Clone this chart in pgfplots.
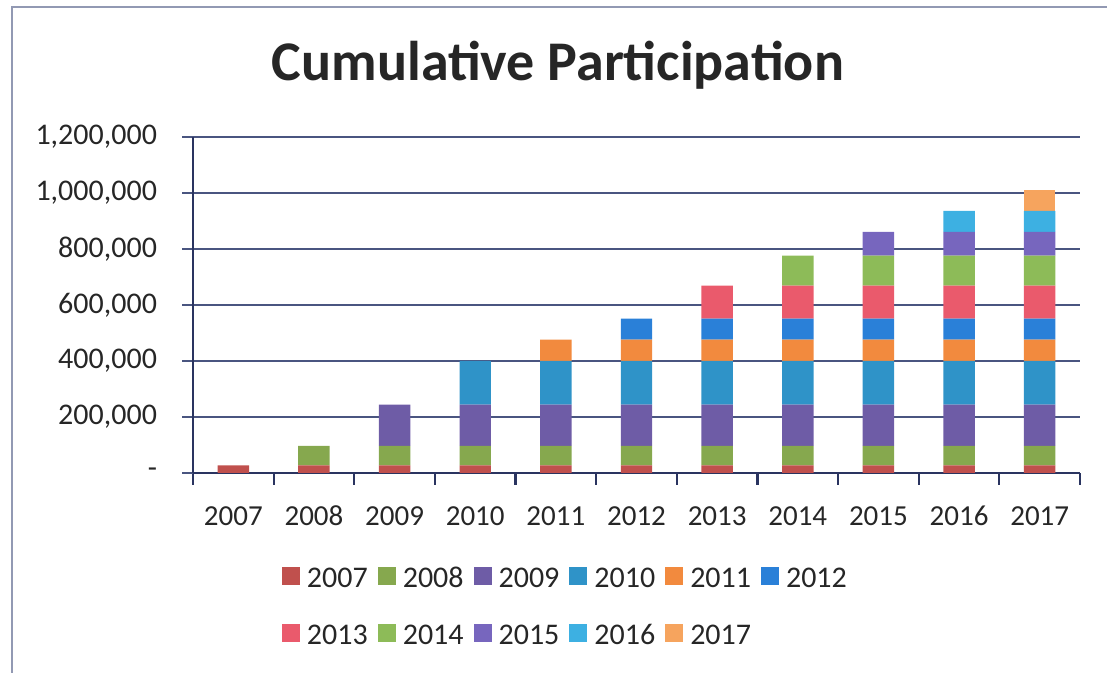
\documentclass[border=0pt]{standalone}
\usepackage{fontspec}
\setmainfont{Carlito}
\usepackage{pgfplots}
\pgfplotsset{compat=1.18}

\definecolor{c07}{HTML}{C0504D}
\definecolor{c08}{HTML}{86A84E}
\definecolor{c09}{HTML}{6E5CA6}
\definecolor{c10}{HTML}{2F93C8}
\definecolor{c11}{HTML}{F28A3E}
\definecolor{c12}{HTML}{2A80D8}
\definecolor{c13}{HTML}{EA5A6C}
\definecolor{c14}{HTML}{8DBB58}
\definecolor{c15}{HTML}{7766BE}
\definecolor{c16}{HTML}{3DB0E2}
\definecolor{c17}{HTML}{F6A45E}
\definecolor{gridc}{HTML}{4A5580}
\definecolor{axisc}{HTML}{2A3460}

\begin{document}
\begin{tikzpicture}
\useasboundingbox (0pt,0pt) rectangle (553.5pt,336.5pt);
\draw[gridc!60, line width=0.8pt] (6pt,-20pt) -- (6pt,333pt) -- (600pt,333pt);
\node[font=\fontsize{28}{32}\selectfont\bfseries, text=black!85] at (279pt,304pt) {Cumulative Participation};
\begin{axis}[
    at={(96.5pt,100pt)}, anchor=south west,
    scale only axis,
    width=443.5pt, height=168pt,
    ybar stacked,
    bar width=0.39,
    xmin=-0.5, xmax=10.5,
    ymin=0, ymax=1200000,
    scaled y ticks=false,
    axis lines*=left,
    axis line style={axisc, line width=1.1pt},
    xtick={0,...,10},
    xticklabels={2007,2008,2009,2010,2011,2012,2013,2014,2015,2016,2017},
    major x tick style={draw=none},
    minor xtick={-0.5,0.5,...,10.5},
    minor x tick style={axisc, line width=1.1pt},
    minor tick length=6pt,
    tick align=outside,
    ytick={0,200000,...,1200000},
    yticklabels={{-\hspace{13pt}},{200,000},{400,000},{600,000},{800,000},{1,000,000},{1,200,000}},
    major y tick style={gridc, line width=1pt},
    major tick length=5.5pt,
    ymajorgrids,
    grid style={gridc, line width=1pt},
    yticklabel style={font=\fontsize{15}{17}\selectfont, text=black!85, xshift=-9pt},
    xticklabel style={font=\fontsize{14.5}{17}\selectfont, text=black!85,
        text height=10pt, text depth=0pt, yshift=-7pt},
    every axis plot/.append style={draw=none},
    legend columns=6,
    legend style={draw=none, fill=none, at={(0.421,-0.393)}, anchor=center,
        font=\fontsize{15}{17}\selectfont, text=black!85,
        nodes={text height=10.5pt, text depth=0pt},
        /tikz/every odd column/.append style={column sep=1.5pt},
        /tikz/every even column/.append style={column sep=3pt},
        row sep=14pt},
    legend image code/.code={\fill[#1] (0pt,-4pt) rectangle (9pt,5pt);},
]
\addplot[fill=c07] coordinates {(0,27500) (1,27500) (2,27500) (3,27500) (4,27500) (5,27500) (6,27500) (7,27500) (8,27500) (9,27500) (10,27500)};
\addplot[fill=c08] coordinates {(0,0) (1,69000) (2,69000) (3,69000) (4,69000) (5,69000) (6,69000) (7,69000) (8,69000) (9,69000) (10,69000)};
\addplot[fill=c09] coordinates {(0,0) (1,0) (2,148000) (3,148000) (4,148000) (5,148000) (6,148000) (7,148000) (8,148000) (9,148000) (10,148000)};
\addplot[fill=c10] coordinates {(0,0) (1,0) (2,0) (3,156000) (4,156000) (5,156000) (6,156000) (7,156000) (8,156000) (9,156000) (10,156000)};
\addplot[fill=c11] coordinates {(0,0) (1,0) (2,0) (3,0) (4,76000) (5,76000) (6,76000) (7,76000) (8,76000) (9,76000) (10,76000)};
\addplot[fill=c12] coordinates {(0,0) (1,0) (2,0) (3,0) (4,0) (5,75000) (6,75000) (7,75000) (8,75000) (9,75000) (10,75000)};
\addplot[fill=c13] coordinates {(0,0) (1,0) (2,0) (3,0) (4,0) (5,0) (6,118000) (7,118000) (8,118000) (9,118000) (10,118000)};
\addplot[fill=c14] coordinates {(0,0) (1,0) (2,0) (3,0) (4,0) (5,0) (6,0) (7,107000) (8,107000) (9,107000) (10,107000)};
\addplot[fill=c15] coordinates {(0,0) (1,0) (2,0) (3,0) (4,0) (5,0) (6,0) (7,0) (8,85000) (9,85000) (10,85000)};
\addplot[fill=c16] coordinates {(0,0) (1,0) (2,0) (3,0) (4,0) (5,0) (6,0) (7,0) (8,0) (9,75000) (10,75000)};
\addplot[fill=c17] coordinates {(0,0) (1,0) (2,0) (3,0) (4,0) (5,0) (6,0) (7,0) (8,0) (9,0) (10,74000)};
\legend{2007,2008,2009,2010,2011,2012,2013,2014,2015,2016,2017}
\end{axis}
\end{tikzpicture}
\end{document}
